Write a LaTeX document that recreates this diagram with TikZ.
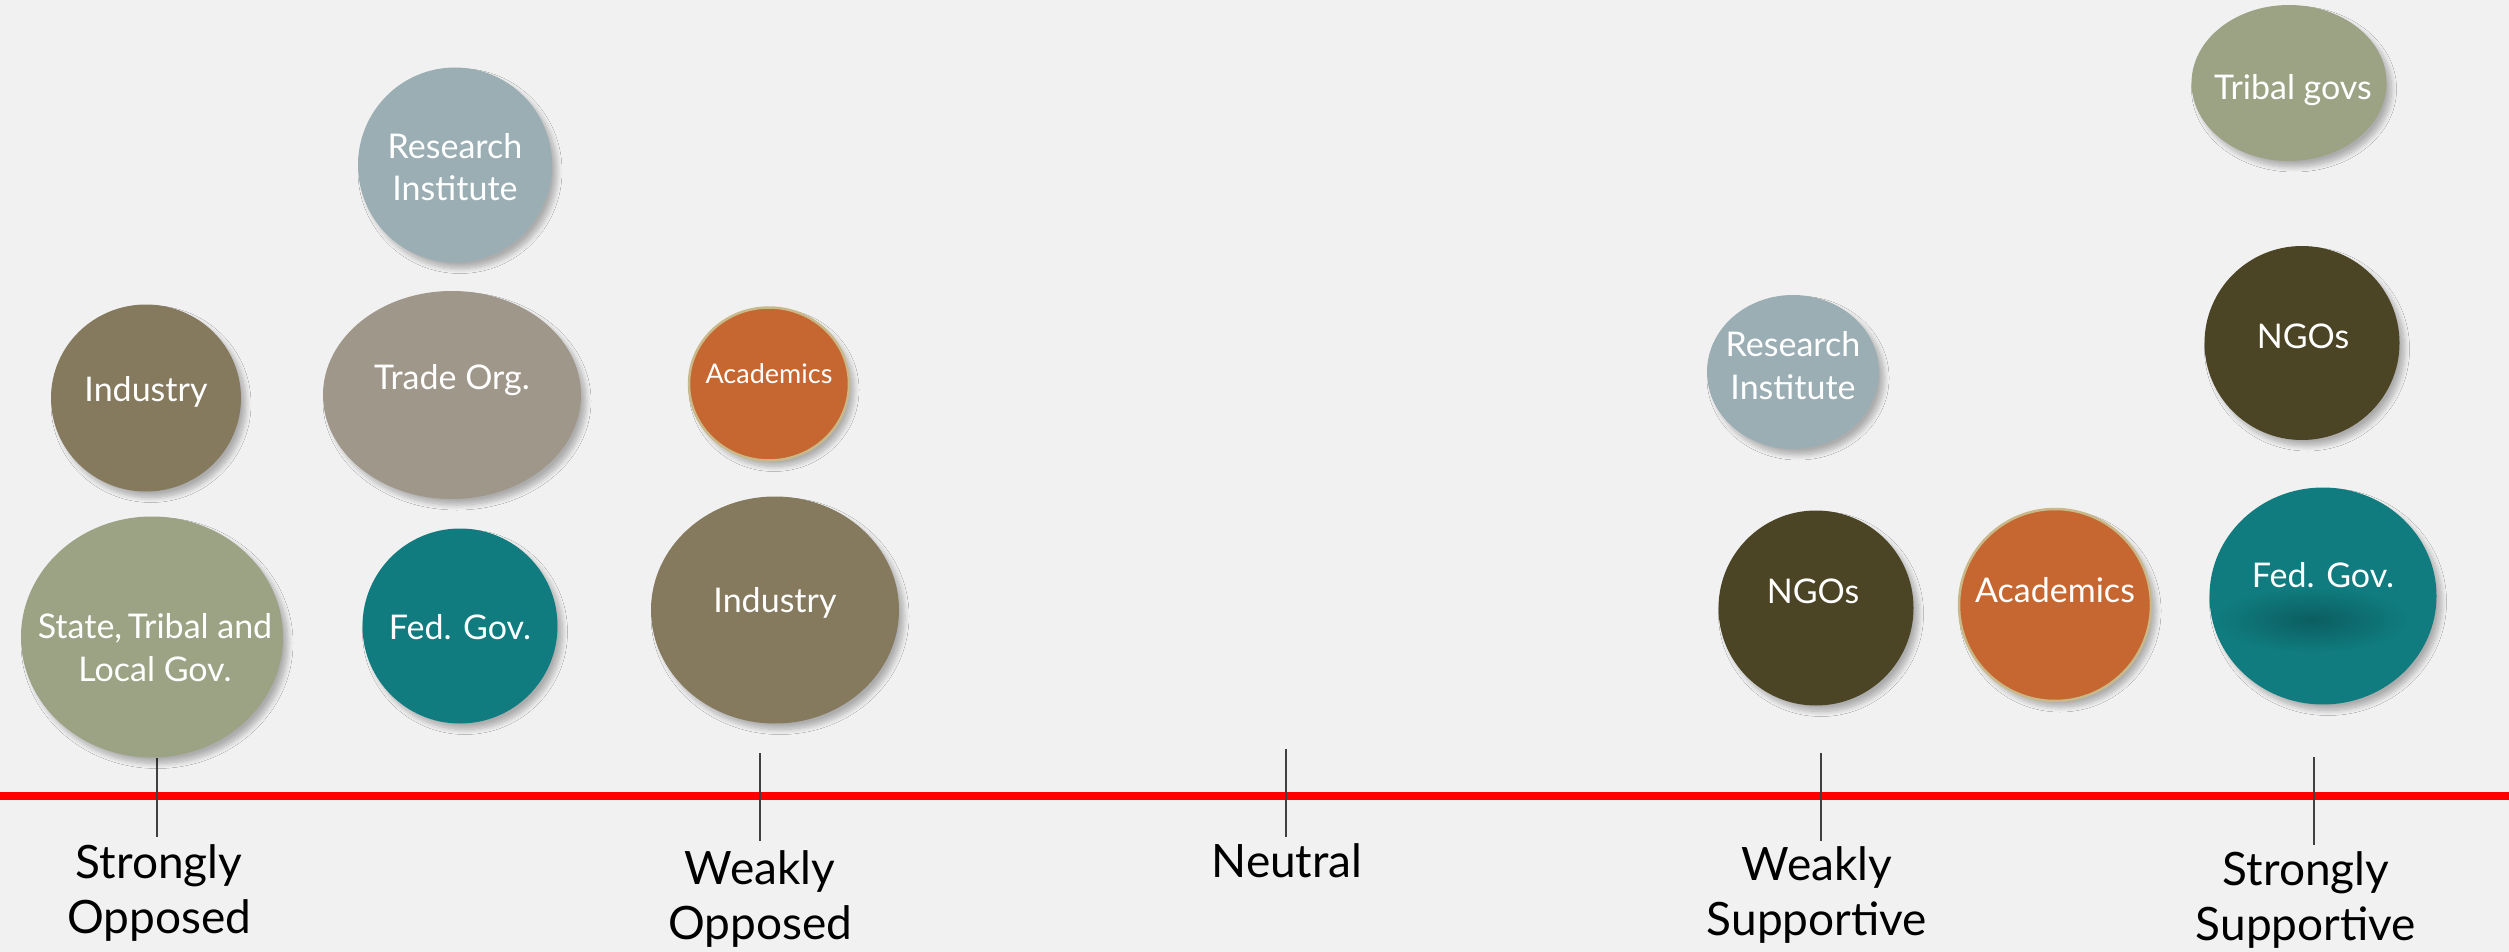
\documentclass[tikz,border=0pt]{standalone}
\usepackage{fontspec}
\setmainfont{Lato}
\usetikzlibrary{shapes.geometric,shadows.blur,fadings}
\definecolor{bg}{RGB}{241,241,241}
\definecolor{resgray}{RGB}{155,174,180}
\definecolor{indbrown}{RGB}{133,121,94}
\definecolor{tradegray}{RGB}{160,151,139}
\definecolor{sage}{RGB}{156,163,132}
\definecolor{fedteal}{RGB}{16,124,127}
\definecolor{acad}{RGB}{198,103,49}
\definecolor{acadrim}{RGB}{201,185,138}
\definecolor{ngo}{RGB}{75,68,37}
\definecolor{axisred}{RGB}{255,0,0}
\tikzfading[name=softglow, inner color=transparent!0, outer color=transparent!100]
\tikzset{
  bubble/.style={ellipse, inner sep=0pt, draw=none,
    blur shadow={shadow xshift=5pt, shadow yshift=-6pt, shadow blur radius=5pt, shadow opacity=28, shadow blur steps=10}},
  btext/.style={text=white, font=\fontsize{34}{43}\selectfont, align=center, inner sep=0pt, anchor=base},
  lbl/.style={text=black, font=\fontsize{46}{55}\selectfont, align=center, inner sep=0pt, anchor=base},
  tickline/.style={draw=black!75, line width=1.3pt},
}
\begin{document}
\begin{tikzpicture}[x=1pt,y=-1pt]
\useasboundingbox (0,0) rectangle (2509,952);
\fill[bg] (0,0) rectangle (2509,952);

% axis
\coordinate (axL) at (0,796);
\coordinate (axR) at (2509,796);
\draw[axisred, line width=8pt] (axL) -- (axR);

% ticks
\coordinate (t1a) at (157,758); \coordinate (t1b) at (157,837);
\coordinate (t2a) at (760,753); \coordinate (t2b) at (760,841);
\coordinate (t3a) at (1286,749); \coordinate (t3b) at (1286,837);
\coordinate (t4a) at (1821,753); \coordinate (t4b) at (1821,841);
\coordinate (t5a) at (2314,757); \coordinate (t5b) at (2314,845);
\draw[tickline] (t1a) -- (t1b);
\draw[tickline] (t2a) -- (t2b);
\draw[tickline] (t3a) -- (t3b);
\draw[tickline] (t4a) -- (t4b);
\draw[tickline] (t5a) -- (t5b);

% labels (anchor base = baseline of last line)
\node[lbl] (l1) at (159,933) {Strongly\\Opposed};
\node[lbl] (l2) at (760,939) {Weakly\\Opposed};
\node[lbl] (l3) at (1287,877) {Neutral};
\node[lbl] (l4) at (1817,935) {Weakly\\Supportive};
\node[lbl] (l5) at (2306,940) {Strongly\\Supportive};

% strongly opposed column
\node[bubble, fill=indbrown, minimum width=190pt, minimum height=187pt] (so-ind) at (146,398) {};
\node[btext] (so-ind-t) at (146,401) {Industry};
\node[bubble, fill=sage, minimum width=262pt, minimum height=241pt] (so-gov) at (152,637) {};
\node[btext] (so-gov-t) at (155,681) {State,\,Tribal and\\Local Gov.};

% second column
\node[bubble, fill=resgray, minimum width=194pt, minimum height=195pt] (so-res) at (455,165) {};
\node[btext] (so-res-t) at (455,201) {Research\\Institute};
\node[bubble, fill=tradegray, minimum width=258pt, minimum height=208pt] (so-trade) at (452,395) {};
\node[btext] (so-trade-t) at (452,389) {Trade Org.};
\node[bubble, fill=fedteal, minimum width=195pt, minimum height=195pt] (so-fed) at (460,626) {};
\node[btext] (so-fed-t) at (460,639) {Fed. Gov.};

% weakly opposed
\node[bubble, fill=acad, draw=acadrim, line width=2.5pt, minimum width=160pt, minimum height=153pt] (wo-acad) at (769,384) {};
\node[btext, font=\fontsize{27}{33}\selectfont] (wo-acad-t) at (769,383) {Academics};
\node[bubble, fill=indbrown, minimum width=248pt, minimum height=227pt] (wo-ind) at (775,610) {};
\node[btext] (wo-ind-t) at (775,612) {Industry};

% weakly supportive
\node[bubble, fill=resgray, minimum width=172pt, minimum height=154pt] (ws-res) at (1793,372) {};
\node[btext] (ws-res-t) at (1793,399) {Research\\Institute};
\node[bubble, fill=ngo, minimum width=195pt, minimum height=195pt] (ws-ngo) at (1816,608) {};
\node[btext] (ws-ngo-t) at (1813,603) {NGOs};
\node[bubble, fill=acad, draw=acadrim, line width=2.5pt, minimum width=192pt, minimum height=192pt] (ws-acad) at (2055,605) {};
\node[btext] (ws-acad-t) at (2055,602) {Academics};

% strongly supportive
\node[bubble, fill=sage, minimum width=195pt, minimum height=156pt] (ss-tribal) at (2289,83) {};
\node[btext] (ss-tribal-t) at (2293,100) {Tribal govs};
\node[bubble, fill=ngo, minimum width=195pt, minimum height=194pt] (ss-ngo) at (2302,343) {};
\node[btext] (ss-ngo-t) at (2303,348) {NGOs};
\node[bubble, fill=fedteal, minimum width=227pt, minimum height=217pt] (ss-fed) at (2323,596) {};
\fill[black!80!fedteal, opacity=0.3, path fading=softglow] (2312,620) ellipse [x radius=95, y radius=32];
\node[btext] (ss-fed-t) at (2323,587) {Fed. Gov.};
\end{tikzpicture}
\end{document}
